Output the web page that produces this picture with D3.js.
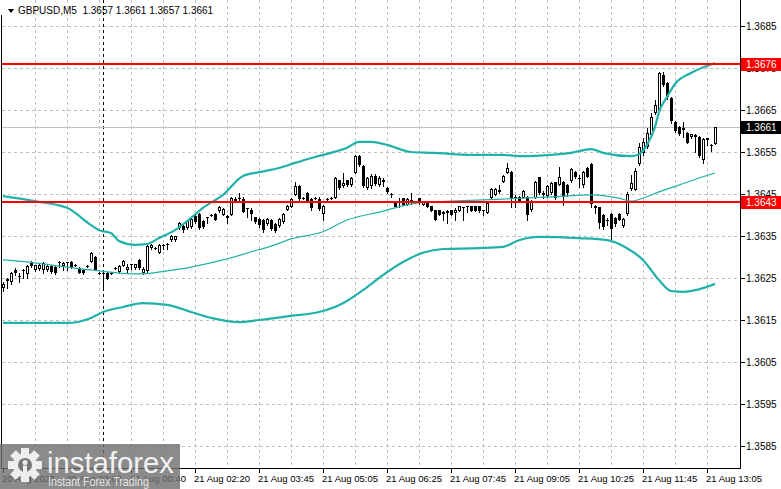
<!DOCTYPE html>
<html>
<head>
<meta charset="utf-8">
<script src="https://cdn.jsdelivr.net/npm/d3@7"></script>
<style>
  html, body { margin: 0; padding: 0; background: #fff; }
  text { font-family: "Liberation Sans", Arial, sans-serif; }
</style>
</head>
<body>
<div id="chart"></div>
<script>
// GBPUSD M5, one value per bar (oldest first)
const open = [1.36226,1.36243,1.36240,1.36269,1.36255,1.36267,1.36260,1.36288,1.36269,1.36271,
  1.36269,1.36269,1.36279,1.36276,1.36286,1.36279,1.36288,1.36288,1.36281,1.36274,
  1.36269,1.36279,1.36288,1.36300,1.36262,1.36260,1.36262,1.36262,1.36274,1.36264,
  1.36279,1.36269,1.36281,1.36274,1.36293,1.36262,1.36267,1.36321,1.36321,1.36310,
  1.36326,1.36329,1.36340,1.36340,1.36369,1.36374,1.36369,1.36371,1.36398,1.36402,
  1.36386,1.36393,1.36400,1.36402,1.36410,1.36400,1.36393,1.36400,1.36433,1.36440,
  1.36438,1.36414,1.36412,1.36395,1.36390,1.36388,1.36379,1.36388,1.36379,1.36374,
  1.36383,1.36412,1.36419,1.36448,1.36469,1.36440,1.36452,1.36438,1.36440,1.36438,
  1.36402,1.36438,1.36440,1.36440,1.36483,1.36469,1.36483,1.36471,1.36500,1.36540,
  1.36517,1.36464,1.36469,1.36493,1.36471,1.36479,1.36464,1.36450,1.36431,1.36429,
  1.36440,1.36424,1.36431,1.36431,1.36440,1.36424,1.36431,1.36421,1.36412,1.36412,
  1.36402,1.36405,1.36412,1.36405,1.36410,1.36419,1.36419,1.36421,1.36421,1.36421,
  1.36412,1.36405,1.36440,1.36448,1.36455,1.36479,1.36500,1.36502,1.36438,1.36443,
  1.36440,1.36443,1.36412,1.36440,1.36490,1.36448,1.36445,1.36452,1.36479,1.36471,
  1.36479,1.36471,1.36481,1.36502,1.36488,1.36471,1.36512,1.36521,1.36417,1.36419,
  1.36400,1.36388,1.36402,1.36393,1.36402,1.36374,1.36402,1.36462,1.36460,1.36521,
  1.36548,1.36562,1.36590,1.36643,1.36650,1.36733,1.36714,1.36679,1.36621,1.36610,
  1.36602,1.36595,1.36586,1.36586,1.36586,1.36531,1.36579,1.36567,1.36570]
const high = [1.36240,1.36250,1.36264,1.36274,1.36262,1.36271,1.36281,1.36290,1.36281,1.36283,
  1.36288,1.36281,1.36281,1.36279,1.36290,1.36288,1.36288,1.36290,1.36283,1.36276,
  1.36271,1.36281,1.36312,1.36302,1.36264,1.36262,1.36264,1.36264,1.36276,1.36281,
  1.36293,1.36283,1.36283,1.36283,1.36295,1.36276,1.36329,1.36331,1.36324,1.36331,
  1.36331,1.36333,1.36352,1.36350,1.36383,1.36376,1.36388,1.36393,1.36400,1.36405,
  1.36388,1.36395,1.36402,1.36405,1.36421,1.36417,1.36400,1.36443,1.36443,1.36452,
  1.36443,1.36417,1.36417,1.36395,1.36393,1.36390,1.36393,1.36390,1.36381,1.36393,
  1.36405,1.36424,1.36440,1.36479,1.36471,1.36443,1.36455,1.36440,1.36443,1.36443,
  1.36424,1.36440,1.36443,1.36490,1.36483,1.36500,1.36483,1.36490,1.36543,1.36543,
  1.36519,1.36490,1.36498,1.36498,1.36493,1.36488,1.36467,1.36452,1.36433,1.36440,
  1.36440,1.36440,1.36452,1.36433,1.36440,1.36433,1.36433,1.36421,1.36412,1.36412,
  1.36410,1.36412,1.36412,1.36417,1.36421,1.36419,1.36421,1.36421,1.36421,1.36421,
  1.36412,1.36431,1.36464,1.36464,1.36471,1.36495,1.36524,1.36505,1.36448,1.36445,
  1.36460,1.36445,1.36436,1.36481,1.36490,1.36457,1.36471,1.36479,1.36479,1.36514,
  1.36481,1.36474,1.36512,1.36505,1.36495,1.36505,1.36514,1.36524,1.36424,1.36419,
  1.36402,1.36393,1.36405,1.36395,1.36405,1.36393,1.36455,1.36495,1.36512,1.36571,
  1.36583,1.36607,1.36643,1.36674,1.36740,1.36740,1.36717,1.36681,1.36624,1.36612,
  1.36621,1.36598,1.36593,1.36593,1.36588,1.36583,1.36583,1.36569,1.36610]
const low = [1.36219,1.36226,1.36236,1.36257,1.36240,1.36250,1.36250,1.36276,1.36267,1.36269,
  1.36262,1.36267,1.36262,1.36260,1.36276,1.36269,1.36269,1.36274,1.36279,1.36262,
  1.36260,1.36276,1.36288,1.36269,1.36260,1.36229,1.36248,1.36260,1.36271,1.36262,
  1.36279,1.36262,1.36271,1.36271,1.36271,1.36260,1.36264,1.36319,1.36319,1.36310,
  1.36319,1.36319,1.36338,1.36338,1.36367,1.36360,1.36367,1.36369,1.36381,1.36367,
  1.36369,1.36381,1.36398,1.36388,1.36407,1.36400,1.36381,1.36400,1.36431,1.36431,
  1.36407,1.36395,1.36388,1.36381,1.36371,1.36360,1.36376,1.36364,1.36360,1.36371,
  1.36381,1.36412,1.36419,1.36448,1.36436,1.36438,1.36431,1.36412,1.36438,1.36412,
  1.36388,1.36436,1.36438,1.36440,1.36462,1.36467,1.36469,1.36469,1.36500,1.36517,
  1.36467,1.36462,1.36464,1.36471,1.36469,1.36469,1.36452,1.36443,1.36419,1.36419,
  1.36424,1.36424,1.36426,1.36429,1.36426,1.36424,1.36419,1.36410,1.36388,1.36400,
  1.36388,1.36381,1.36400,1.36388,1.36410,1.36388,1.36407,1.36410,1.36410,1.36407,
  1.36400,1.36405,1.36440,1.36448,1.36452,1.36479,1.36500,1.36419,1.36419,1.36431,
  1.36440,1.36388,1.36410,1.36440,1.36450,1.36440,1.36443,1.36450,1.36438,1.36471,
  1.36424,1.36445,1.36479,1.36488,1.36467,1.36467,1.36490,1.36419,1.36405,1.36369,
  1.36367,1.36376,1.36340,1.36374,1.36388,1.36371,1.36400,1.36460,1.36460,1.36519,
  1.36543,1.36560,1.36588,1.36640,1.36648,1.36707,1.36676,1.36619,1.36598,1.36590,
  1.36586,1.36571,1.36583,1.36550,1.36538,1.36524,1.36567,1.36552,1.36570]
const close = [1.36236,1.36248,1.36262,1.36262,1.36252,1.36269,1.36279,1.36279,1.36281,1.36281,
  1.36286,1.36279,1.36264,1.36262,1.36288,1.36286,1.36286,1.36274,1.36281,1.36262,
  1.36262,1.36279,1.36310,1.36269,1.36262,1.36262,1.36248,1.36262,1.36274,1.36279,
  1.36290,1.36276,1.36283,1.36283,1.36274,1.36271,1.36326,1.36329,1.36321,1.36329,
  1.36329,1.36331,1.36350,1.36350,1.36381,1.36364,1.36386,1.36390,1.36383,1.36369,
  1.36371,1.36395,1.36400,1.36388,1.36419,1.36414,1.36398,1.36440,1.36438,1.36440,
  1.36407,1.36417,1.36402,1.36383,1.36376,1.36364,1.36390,1.36367,1.36362,1.36390,
  1.36402,1.36421,1.36438,1.36469,1.36438,1.36440,1.36433,1.36417,1.36440,1.36414,
  1.36421,1.36438,1.36440,1.36488,1.36464,1.36476,1.36471,1.36488,1.36540,1.36519,
  1.36469,1.36488,1.36493,1.36474,1.36488,1.36483,1.36455,1.36450,1.36419,1.36433,
  1.36424,1.36438,1.36436,1.36431,1.36429,1.36431,1.36419,1.36410,1.36388,1.36400,
  1.36407,1.36410,1.36400,1.36412,1.36421,1.36419,1.36421,1.36410,1.36410,1.36410,
  1.36412,1.36429,1.36462,1.36462,1.36460,1.36493,1.36512,1.36440,1.36443,1.36431,
  1.36457,1.36400,1.36433,1.36479,1.36452,1.36452,1.36469,1.36476,1.36440,1.36490,
  1.36443,1.36452,1.36510,1.36490,1.36488,1.36502,1.36490,1.36426,1.36421,1.36381,
  1.36371,1.36388,1.36367,1.36379,1.36388,1.36390,1.36450,1.36476,1.36505,1.36562,
  1.36574,1.36595,1.36633,1.36662,1.36738,1.36710,1.36681,1.36624,1.36600,1.36593,
  1.36607,1.36571,1.36593,1.36590,1.36540,1.36581,1.36583,1.36567,1.36610]

// Bollinger bands: [bar index, price]
const bandUpper = [[0,1.36445],[8,1.36433],[16,1.36417],[22,1.36376],[24,1.36364],[27,1.36357],
  [29,1.36338],[33,1.36329],[36,1.36331],[39,1.36345],[43,1.36364],[47,1.36393],[50,1.36417],
  [55,1.36448],[60,1.36493],[64,1.36502],[69,1.36512],[73,1.36524],[78,1.36538],[82,1.36548],
  [86,1.36560],[89,1.36574],[92,1.36574],[96,1.36567],[102,1.36550],[108,1.36548],[117,1.36543],
  [125,1.36543],[130,1.36540],[137,1.36543],[142,1.36548],[147,1.36557],[150,1.36548],[157,1.36540],
  [159,1.36545],[161,1.36567],[163,1.36610],[164,1.36645],[166,1.36681],[168,1.36712],[172,1.36738],
  [176,1.36755],[178,1.36762]]
const bandMiddle = [[0,1.36293],[8,1.36286],[16,1.36276],[24,1.36267],[32,1.36260],[35,1.36260],
  [41,1.36267],[47,1.36276],[55,1.36293],[62,1.36312],[68,1.36329],[72,1.36343],[80,1.36360],
  [86,1.36388],[94,1.36407],[104,1.36429],[112,1.36433],[125,1.36438],[137,1.36443],[147,1.36448],
  [154,1.36440],[157,1.36433],[160,1.36440],[164,1.36455],[169,1.36471],[174,1.36488],[178,1.36500]]
const bandLower = [[0,1.36143],[8,1.36143],[16,1.36143],[22,1.36155],[25,1.36169],[30,1.36181],
  [35,1.36190],[41,1.36186],[47,1.36169],[52,1.36155],[59,1.36145],[64,1.36150],[72,1.36160],
  [79,1.36169],[85,1.36190],[90,1.36221],[95,1.36257],[100,1.36288],[105,1.36310],[110,1.36319],
  [119,1.36321],[125,1.36324],[129,1.36340],[134,1.36348],[144,1.36345],[151,1.36340],[156,1.36321],
  [160,1.36293],[164,1.36245],[167,1.36219],[170,1.36217],[175,1.36226],[178,1.36236]]

const priceTicks = [1.3585,1.3595,1.3605,1.3615,1.3625,1.3635,1.3645,1.3655,1.3665,1.3675,1.3685]
const timeTickBars = [0,16,32,48,64,80,96,112,128,144,160,176]
const timeTickLabels = ["20 Aug 2025","20 Aug 23:00","21 Aug 00:40","21 Aug 02:20","21 Aug 03:45",
  "21 Aug 05:05","21 Aug 06:25","21 Aug 07:45","21 Aug 09:05","21 Aug 10:25","21 Aug 11:45","21 Aug 13:05"]
const levels = [1.3676, 1.3643]
const bid = 1.3661
const daySeparatorBar = 25
const title = "GBPUSD,M5  1.3657 1.3661 1.3657 1.3661"

const W = 781, H = 489
const plotRight = 740, plotBottom = 468

const svg = d3.select("#chart").append("svg")
    .attr("width", W).attr("height", H)
    .style("display", "block")

svg.append("rect").attr("width", W).attr("height", H).attr("fill", "#fff")

const x = d3.scaleLinear().domain([0, 178]).range([3, 715])
const y = d3.scaleLinear().domain([1.3585, 1.3685]).range([446, 26])
const px = v => Math.round(v) + 0.5

svg.append("clipPath").attr("id", "plotClip")
    .append("rect").attr("x", 2).attr("y", 0).attr("width", plotRight - 2).attr("height", plotBottom)

const plot = svg.append("g").attr("clip-path", "url(#plotClip)")

// grid
const gridBars = d3.range(8, 177, 8)
plot.selectAll(".vgrid").data(gridBars).enter().append("line")
    .attr("x1", d => px(x(d))).attr("x2", d => px(x(d)))
    .attr("y1", 0).attr("y2", plotBottom)
    .attr("stroke", "#c0c0c0").attr("stroke-dasharray", "3,3")
plot.selectAll(".hgrid").data(priceTicks).enter().append("line")
    .attr("x1", 2).attr("x2", plotRight)
    .attr("y1", d => px(y(d))).attr("y2", d => px(y(d)))
    .attr("stroke", "#c0c0c0").attr("stroke-dasharray", "3,3")

// day separator
plot.append("line")
    .attr("x1", px(x(daySeparatorBar))).attr("x2", px(x(daySeparatorBar)))
    .attr("y1", 0).attr("y2", plotBottom)
    .attr("stroke", "#000").attr("stroke-dasharray", "3,3")

// bid line
plot.append("line")
    .attr("x1", 2).attr("x2", plotRight)
    .attr("y1", px(y(bid))).attr("y2", px(y(bid)))
    .attr("stroke", "#c0c0c0")

// candles
const bars = open.map((o, i) => ({ i: i, o: o, h: high[i], l: low[i], c: close[i] }))
const candle = plot.selectAll(".candle").data(bars).enter().append("g")

candle.append("line")
    .attr("x1", d => Math.round(x(d.i)) + 0.5).attr("x2", d => Math.round(x(d.i)) + 0.5)
    .attr("y1", d => Math.round(y(d.h))).attr("y2", d => Math.round(y(d.l)) + 1)
    .attr("stroke", "#000")

candle.each(function (d) {
    let g = d3.select(this)
    let cx = Math.round(x(d.i))
    let top = Math.round(y(Math.max(d.o, d.c)))
    let bot = Math.round(y(Math.min(d.o, d.c)))
    if (bot - top < 2) {
        g.append("line")
            .attr("x1", cx - 1).attr("x2", cx + 2)
            .attr("y1", top + 0.5).attr("y2", top + 0.5)
            .attr("stroke", "#000")
    } else {
        g.append("rect")
            .attr("x", cx - 0.5).attr("y", top + 0.5)
            .attr("width", 2).attr("height", bot - top - 1)
            .attr("fill", d.c >= d.o ? "#fff" : "#000")
            .attr("stroke", "#000")
    }
})

// bollinger bands
const bandLine = d3.line()
    .x(d => x(d[0])).y(d => y(d[1]))
    .curve(d3.curveMonotoneX)
plot.append("path").attr("d", bandLine(bandMiddle))
    .attr("fill", "none").attr("stroke", "#20b2aa").attr("stroke-width", 1.2)
plot.append("path").attr("d", bandLine(bandUpper))
    .attr("fill", "none").attr("stroke", "#20b2aa").attr("stroke-width", 2.2)
plot.append("path").attr("d", bandLine(bandLower))
    .attr("fill", "none").attr("stroke", "#20b2aa").attr("stroke-width", 2.2)

// horizontal levels
plot.selectAll(".level").data(levels).enter().append("line")
    .attr("x1", 2).attr("x2", plotRight)
    .attr("y1", d => Math.round(y(d))).attr("y2", d => Math.round(y(d)))
    .attr("stroke", "#ff0000").attr("stroke-width", 2)

// frame
svg.append("line").attr("x1", 1.5).attr("x2", 1.5).attr("y1", 15).attr("y2", plotBottom + 0.5)
    .attr("stroke", "#000")
svg.append("line").attr("x1", plotRight + 0.5).attr("x2", plotRight + 0.5).attr("y1", 0).attr("y2", plotBottom + 0.5)
    .attr("stroke", "#000")
svg.append("line").attr("x1", 1).attr("x2", plotRight + 1).attr("y1", plotBottom + 0.5).attr("y2", plotBottom + 0.5)
    .attr("stroke", "#000")

// price axis
const yAxis = svg.append("g")
yAxis.selectAll(".ptick").data(priceTicks).enter().append("line")
    .attr("x1", plotRight + 1).attr("x2", plotRight + 5)
    .attr("y1", d => px(y(d))).attr("y2", d => px(y(d)))
    .attr("stroke", "#000")
yAxis.selectAll(".plabel").data(priceTicks).enter().append("text")
    .attr("x", 746).attr("y", d => y(d) + 4)
    .attr("font-size", 10).attr("fill", "#000")
    .text(d => d.toFixed(4))

function priceTag(p, bg) {
    let yy = Math.round(y(p))
    svg.append("rect").attr("x", plotRight + 1).attr("y", yy - 6)
        .attr("width", W - plotRight - 1).attr("height", 13).attr("fill", bg)
    svg.append("text").attr("x", 746).attr("y", yy + 4)
        .attr("font-size", 10).attr("fill", "#fff")
        .text(p.toFixed(4))
}
levels.forEach(p => priceTag(p, "#ff0000"))
priceTag(bid, "#000")

// time axis
const xAxis = svg.append("g")
xAxis.selectAll(".ttick").data(timeTickBars).enter().append("line")
    .attr("x1", d => px(x(d))).attr("x2", d => px(x(d)))
    .attr("y1", plotBottom + 1).attr("y2", plotBottom + 5)
    .attr("stroke", "#000")
xAxis.selectAll(".tlabel").data(timeTickBars).enter().append("text")
    .attr("x", d => x(d) - 1).attr("y", 482)
    .attr("font-size", 9.5).attr("fill", "#000")
    .text((d, i) => timeTickLabels[i])

// title
svg.append("path").attr("d", "M8,9 L14,9 L11,13 Z").attr("fill", "#000")
svg.append("text").attr("x", 18).attr("y", 14)
    .attr("font-size", 10).attr("fill", "#000")
    .attr("xml:space", "preserve")
    .text(title)

// watermark
const wm = svg.append("g")
wm.append("rect").attr("x", 0).attr("y", 444).attr("width", 180).attr("height", H - 444)
    .attr("fill", "#6e6e6e").attr("opacity", 0.8)
const gear = wm.append("g").attr("transform", "translate(25,465)")
gear.selectAll(".tooth").data(d3.range(8)).enter().append("rect")
    .attr("x", -4).attr("y", -17).attr("width", 8).attr("height", 9)
    .attr("fill", "#eee")
    .attr("transform", d => "rotate(" + (d * 45) + ")")
gear.append("circle").attr("r", 12).attr("fill", "#eee")
gear.append("circle").attr("r", 7).attr("fill", "#777")
gear.append("circle").attr("cy", -2.5).attr("r", 2.5).attr("fill", "#eee")
gear.append("rect").attr("x", -2).attr("y", 0.5).attr("width", 4).attr("height", 10).attr("fill", "#eee")
wm.append("text").attr("x", 47).attr("y", 473)
    .attr("font-size", 30).attr("fill", "#f2f2f2")
    .attr("textLength", 127).attr("lengthAdjust", "spacingAndGlyphs")
    .text("instaforex")
wm.append("text").attr("x", 48).attr("y", 486)
    .attr("font-size", 12).attr("fill", "#e6e6e6")
    .attr("textLength", 101).attr("lengthAdjust", "spacingAndGlyphs")
    .text("Instant Forex Trading")
</script>
</body>
</html>
